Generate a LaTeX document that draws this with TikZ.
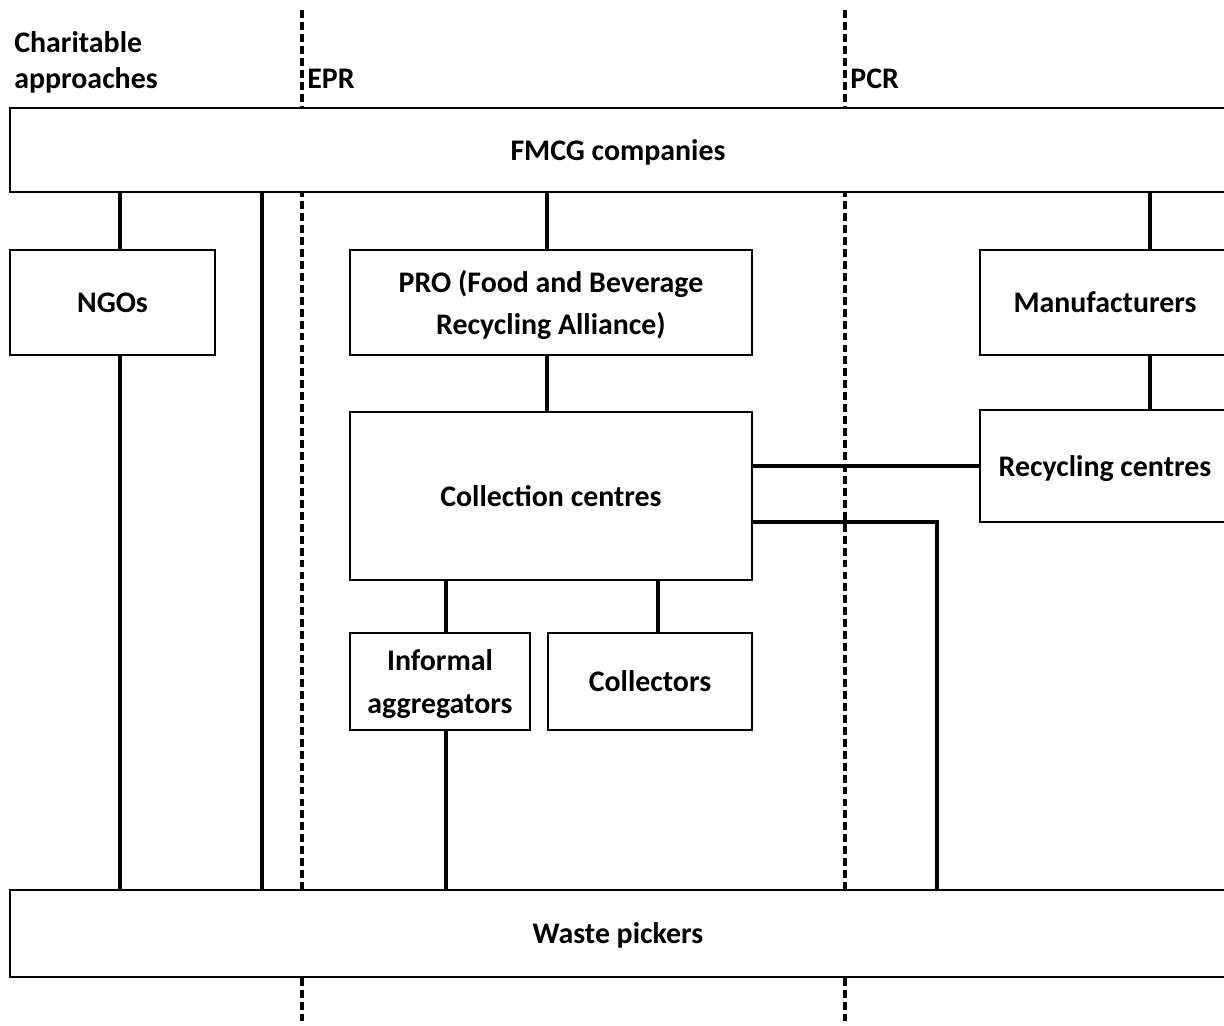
\documentclass[tikz,border=0pt]{standalone}
\usepackage{fontspec}
\setmainfont{Carlito}
\usetikzlibrary{positioning}

\begin{document}
\begin{tikzpicture}[x=0.02cm, y=-0.02cm,
        font=\fontsize{17}{24}\selectfont\bfseries,
        box/.style={rectangle, draw, line width=1.2pt, fill=white, align=center, inner sep=2pt, text depth=0pt},
        link/.style={line width=2.6pt},
        divider/.style={line width=1.9pt, dash pattern=on 4.5pt off 2.3pt}]
        \useasboundingbox (0,0) rectangle (1224,1025);
        % dividers between the approaches
        \coordinate (eprtop) at (302,10);
        \coordinate (eprbot) at (302,1025);
        \coordinate (pcrtop) at (845,10);
        \coordinate (pcrbot) at (845,1025);
        \draw[divider] (eprtop) -- (eprbot);
        \draw[divider] (pcrtop) -- (pcrbot);
        \node[anchor=north west, inner sep=0, align=left, font=\fontsize{17}{20.5}\selectfont\bfseries](charity) at (14,31) {Charitable\\approaches};
        \node[anchor=base west, inner sep=0](epr) at (307,88) {EPR};
        \node[anchor=base west, inner sep=0](pcr) at (850,88) {PCR};
        % boxes
        \node[box, minimum width=24.32cm, minimum height=1.68cm](fmcg) at (618,150) {FMCG companies};
        \node[box, minimum width=4.1cm, minimum height=2.1cm](ngo) at (112.5,302.5) {NGOs};
        \node[box, minimum width=8.04cm, minimum height=2.1cm](pro) at (551,302.5) {PRO (Food and Beverage\\Recycling Alliance)};
        \node[box, minimum width=5cm, minimum height=2.1cm](manuf) at (1105,302.5) {Manufacturers};
        \node[box, minimum width=8.04cm, minimum height=3.36cm, below = 1.1cm of pro](coll) {Collection centres};
        \node[box, minimum width=5cm, minimum height=2.24cm](recyc) at (1105,466) {Recycling centres};
        \node[box, minimum width=3.6cm, minimum height=1.94cm](informal) at (440,681.5) {Informal\\aggregators};
        \node[box, minimum width=4.08cm, minimum height=1.94cm](collectors) at (650,681.5) {Collectors};
        \node[box, minimum width=24.32cm, minimum height=1.74cm](waste) at (618,933.5) {Waste pickers};
        % links
        \coordinate (ngoline) at (120,0);
        \coordinate (charline) at (262,0);
        \coordinate (proline) at (547,0);
        \coordinate (manline) at (1150,0);
        \coordinate (infline) at (446,0);
        \coordinate (colline) at (658,0);
        \coordinate (bend) at (937,522);
        \draw[link] (fmcg.south -| ngoline) -- (ngo.north -| ngoline);
        \draw[link] (ngo.south -| ngoline) -- (waste.north -| ngoline);
        \draw[link] (fmcg.south -| charline) -- (waste.north -| charline);
        \draw[link] (fmcg.south -| proline) -- (pro.north -| proline);
        \draw[link] (pro.south -| proline) -- (coll.north -| proline);
        \draw[link] (fmcg.south -| manline) -- (manuf.north -| manline);
        \draw[link] (manuf.south -| manline) -- (recyc.north -| manline);
        \draw[link] (coll.east |- recyc.west) -- (recyc.west);
        \draw[link] (coll.east |- bend) -- (bend) -- (bend |- waste.north);
        \draw[link] (coll.south -| infline) -- (informal.north -| infline);
        \draw[link] (informal.south -| infline) -- (waste.north -| infline);
        \draw[link] (coll.south -| colline) -- (collectors.north -| colline);
    \end{tikzpicture}
\end{document}
